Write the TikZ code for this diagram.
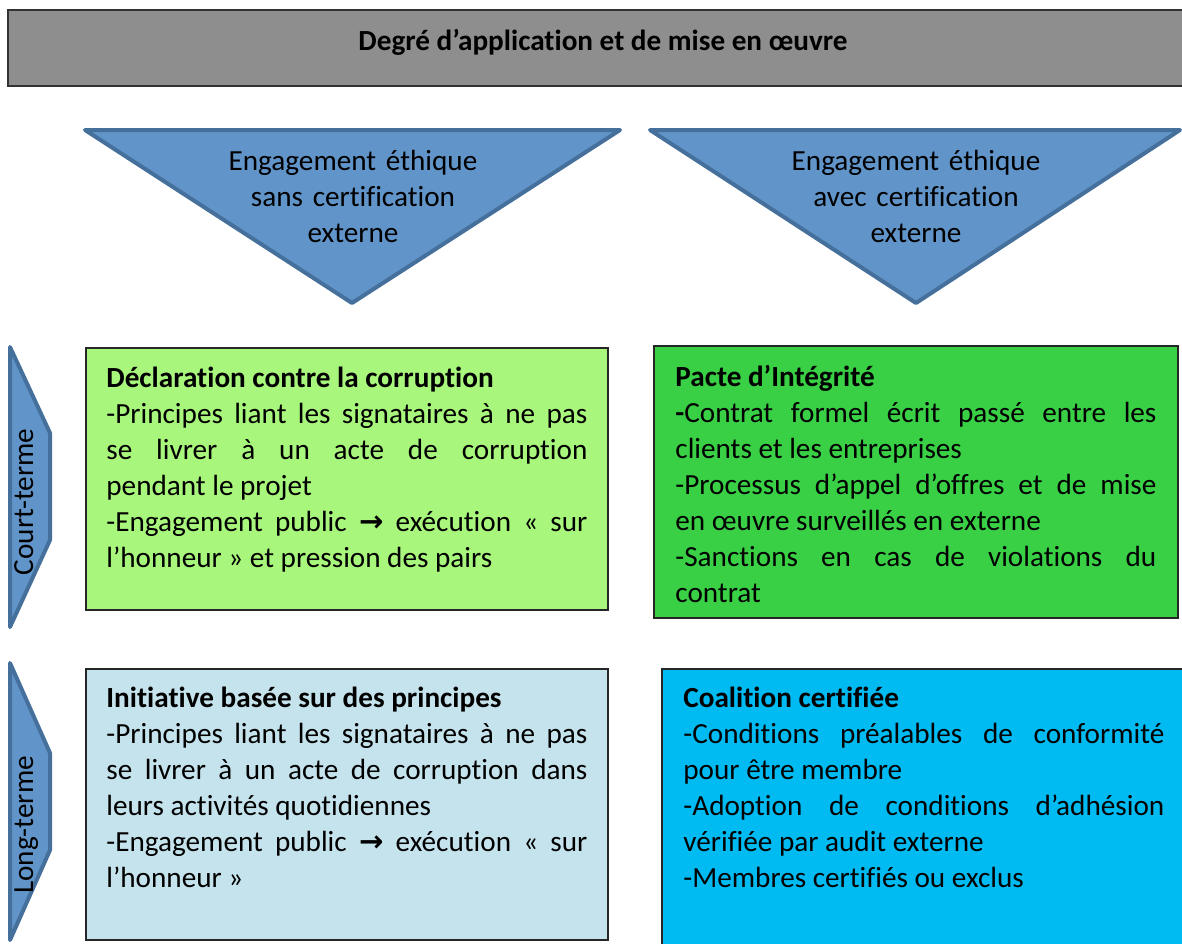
\documentclass[tikz,border=0pt]{standalone}
\usepackage{fontspec}
\setmainfont{Carlito}[Ligatures=NoCommon]
\newfontfamily\arrowfont{DejaVu Sans}
\usetikzlibrary{positioning}
\definecolor{bannergray}{RGB}{142,142,142}
\definecolor{arrowblue}{RGB}{97,149,202}
\definecolor{arrowedge}{RGB}{70,112,156}
\definecolor{lightgreen}{RGB}{168,246,124}
\definecolor{midgreen}{RGB}{58,208,70}
\definecolor{paleblue}{RGB}{197,227,236}
\definecolor{skyblue}{RGB}{0,186,242}
\newcommand{\cellfont}{\fontsize{14.6}{18}\selectfont\hyphenpenalty=10000\exhyphenpenalty=10000}
\newcommand{\toarrow}{{\arrowfont\bfseries →}}

\begin{document}
\begin{tikzpicture}[x=0.5pt,y=-0.5pt,
	bluearrow/.style={fill=arrowblue,draw=arrowedge,line width=2pt,line join=round},
	cellbox/.style={draw=black!85,line width=1pt},
	celltext/.style={text width=240.5pt,align=justify,inner sep=0pt,anchor=base west,font=\cellfont},
	headtext/.style={text width=200pt,align=center,inner sep=0pt,anchor=base,font=\cellfont}]
	\useasboundingbox (0,0) rectangle (1182,943);
	% banner
	\draw[fill=bannergray,draw=black!80,line width=1pt] (8,10) rectangle (1200,86);
	\node[font=\cellfont\bfseries,anchor=base] (degre) at (603,50) {Degré d’application et de mise en œuvre};
	% triangles
	\draw[bluearrow] (85,130) -- (620,130) -- (352,303) -- cycle;
	\draw[bluearrow] (650,130) -- (1180,130) -- (916,303) -- cycle;
	\node[headtext] (sanscert) at (353,170) {Engagement éthique\\sans certification\\externe};
	\node[headtext] (aveccert) at (916,170) {Engagement éthique\\avec certification\\externe};
	% left arrows
	\draw[bluearrow] (10,347) -- (50,433) -- (50,540) -- (10,627) -- cycle;
	\draw[bluearrow] (10,663) -- (50,753) -- (50,850) -- (10,940) -- cycle;
	\node[rotate=90,anchor=base,font=\cellfont,inner sep=0pt] (court) at (33,502) {Court-terme};
	\node[rotate=90,anchor=base,font=\cellfont,inner sep=0pt] (long) at (33,825) {Long-terme};
	% boxes
	\draw[cellbox,fill=lightgreen] (86,348) rectangle (608,610);
	\draw[cellbox,fill=midgreen] (654,346) rectangle (1178,618);
	\draw[cellbox,fill=paleblue] (86,669) rectangle (608,940);
	\draw[cellbox,fill=skyblue] (662,669) rectangle (1200,960);
	\node[celltext] (decl) at (106,387) {\textbf{Déclaration contre la corruption}\par
		-Principes liant les signataires à ne pas\linebreak se livrer à un acte de corruption\linebreak pendant le projet\par
		-Engagement public \toarrow{} exécution «~sur\linebreak l’honneur~» et pression des pairs\par};
	\node[celltext] (pacte) at (675,386) {\textbf{Pacte d’Intégrité}\par
		\textbf{-}Contrat formel écrit passé entre les\linebreak clients et les entreprises\par
		-Processus d’appel d’offres et de mise\linebreak en œuvre surveillés en externe\par
		-Sanctions en cas de violations du\linebreak contrat\par};
	\node[celltext] (initiative) at (106,707) {\textbf{Initiative basée sur des principes}\par
		-Principes liant les signataires à ne pas\linebreak se livrer à un acte de corruption dans\linebreak leurs activités quotidiennes\par
		-Engagement public \toarrow{} exécution «~sur\linebreak l’honneur~»\par};
	\node[celltext] (coalition) at (683,707) {\textbf{Coalition certifiée}\par
		-Conditions préalables de conformité\linebreak pour être membre\par
		-Adoption de conditions d’adhésion\linebreak vérifiée par audit externe\par
		-Membres certifiés ou exclus\par};
\end{tikzpicture}
\end{document}
